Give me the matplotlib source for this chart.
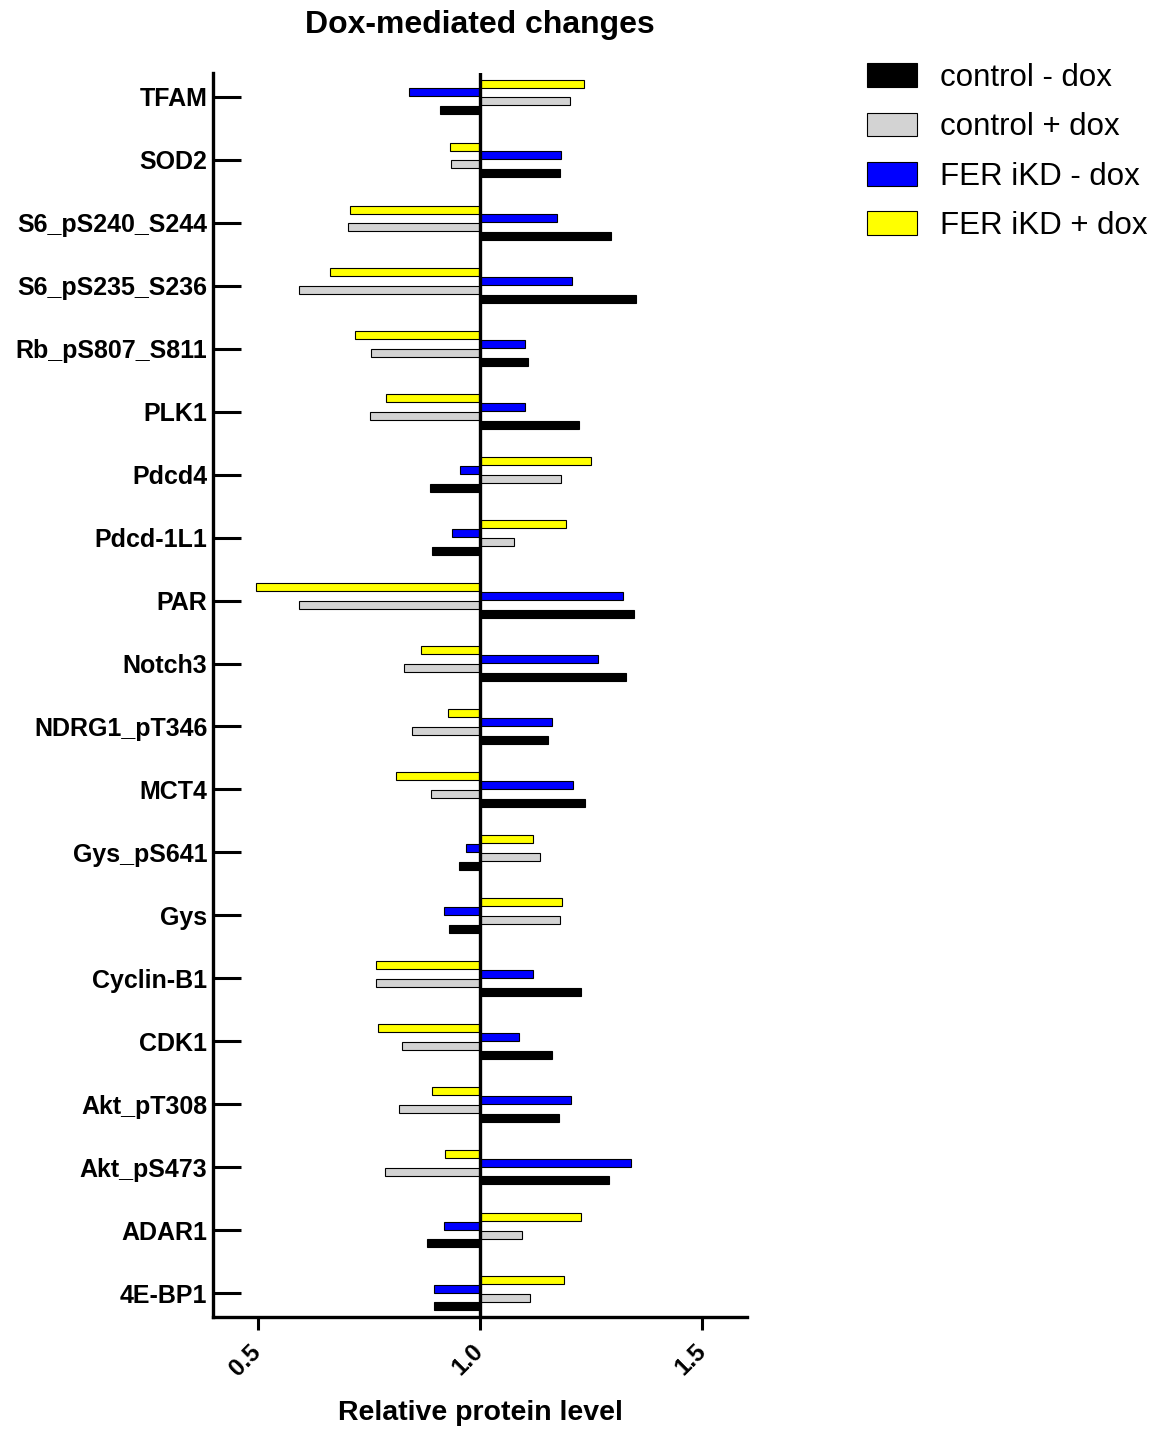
import matplotlib
matplotlib.use("Agg")
import matplotlib.pyplot as plt
import numpy as np

plt.rcParams['font.family'] = ['Liberation Sans', 'DejaVu Sans']

categories = ["TFAM", "SOD2", "S6_pS240_S244", "S6_pS235_S236", "Rb_pS807_S811",
              "PLK1", "Pdcd4", "Pdcd-1L1", "PAR", "Notch3", "NDRG1_pT346", "MCT4",
              "Gys_pS641", "Gys", "Cyclin-B1", "CDK1", "Akt_pT308", "Akt_pS473",
              "ADAR1", "4E-BP1"]

control_minus_dox = [0.910, 1.180, 1.295, 1.351, 1.108, 1.223, 0.888, 0.892, 1.346, 1.328,
                     1.153, 1.236, 0.953, 0.931, 1.227, 1.162, 1.178, 1.291, 0.880, 0.896]
control_plus_dox = [1.203, 0.935, 0.704, 0.594, 0.756, 0.753, 1.181, 1.076, 0.594, 0.830,
                    0.848, 0.891, 1.134, 1.179, 0.767, 0.824, 0.819, 0.787, 1.095, 1.112]
fer_minus_dox = [0.841, 1.181, 1.173, 1.207, 1.100, 1.101, 0.954, 0.936, 1.322, 1.265,
                 1.162, 1.208, 0.969, 0.920, 1.118, 1.088, 1.205, 1.340, 0.919, 0.896]
fer_plus_dox = [1.233, 0.932, 0.708, 0.664, 0.720, 0.789, 1.250, 1.193, 0.497, 0.868,
                0.929, 0.812, 1.118, 1.184, 0.767, 0.771, 0.892, 0.921, 1.227, 1.189]

series_labels = ["control - dox", "control + dox", "FER iKD - dox", "FER iKD + dox"]
series_colors = ["#000000", "#D3D3D3", "#0000FF", "#FFFF00"]
series_values = [control_minus_dox, control_plus_dox, fer_minus_dox, fer_plus_dox]
x_ticks = [0.5, 1.0, 1.5]
x_ticklabels = ["0.5", "1.0", "1.5"]
baseline = 1.0

W, H = 1173, 1433
fig = plt.figure(figsize=(W / 100, H / 100), dpi=100)
ax = fig.add_axes([213 / W, 1 - 1317 / H, (747 - 213) / W, (1317 - 73) / H])

y = np.arange(len(categories))
step = 0.141
bar_h = 0.127
# screen order top->bottom: FER+dox, FER-dox, control+dox, control-dox
offsets = [1.5 * step, 0.5 * step, -0.5 * step, -1.5 * step]
handles = []
for vals, col, lab, off in zip(series_values, series_colors, series_labels, offsets):
    vals = np.asarray(vals)
    b = ax.barh(y + off, vals - baseline, left=baseline, height=bar_h,
                color=col, edgecolor='black', linewidth=0.8, label=lab, zorder=2)
    handles.append(b)

ax.axvline(baseline, color='black', lw=2.4, zorder=3)

ax.set_xlim(0.4, 1.6)
ax.set_ylim(len(categories) - 1 + 0.38, -0.38)

for s in ['top', 'right']:
    ax.spines[s].set_visible(False)
for s in ['left', 'bottom']:
    ax.spines[s].set_linewidth(2.4)

ax.set_yticks(y)
ax.set_yticklabels(categories, fontsize=18, fontweight='bold')
ax.tick_params(axis='y', direction='in', length=20, width=2.2, pad=4)

ax.set_xticks(x_ticks)
ax.set_xticklabels(x_ticklabels, fontsize=17.5, fontweight='bold', rotation=45,
                   ha='right', va='center', rotation_mode='anchor')
ax.tick_params(axis='x', direction='out', length=9.4, width=2.2, pad=13)

ax.set_xlabel("Relative protein level", fontsize=20.5, fontweight='bold', labelpad=14)
ax.set_title("Dox-mediated changes", fontsize=23, fontweight='bold', pad=29)

fig.legend(handles, series_labels, loc='upper left',
           bbox_to_anchor=(867 / W, 1 - 63 / H), frameon=False, fontsize=22.5,
           handlelength=1.6, handleheight=0.79, handletextpad=0.75,
           labelspacing=0.62, borderpad=0, borderaxespad=0)

fig.savefig("out.png", dpi=100)
